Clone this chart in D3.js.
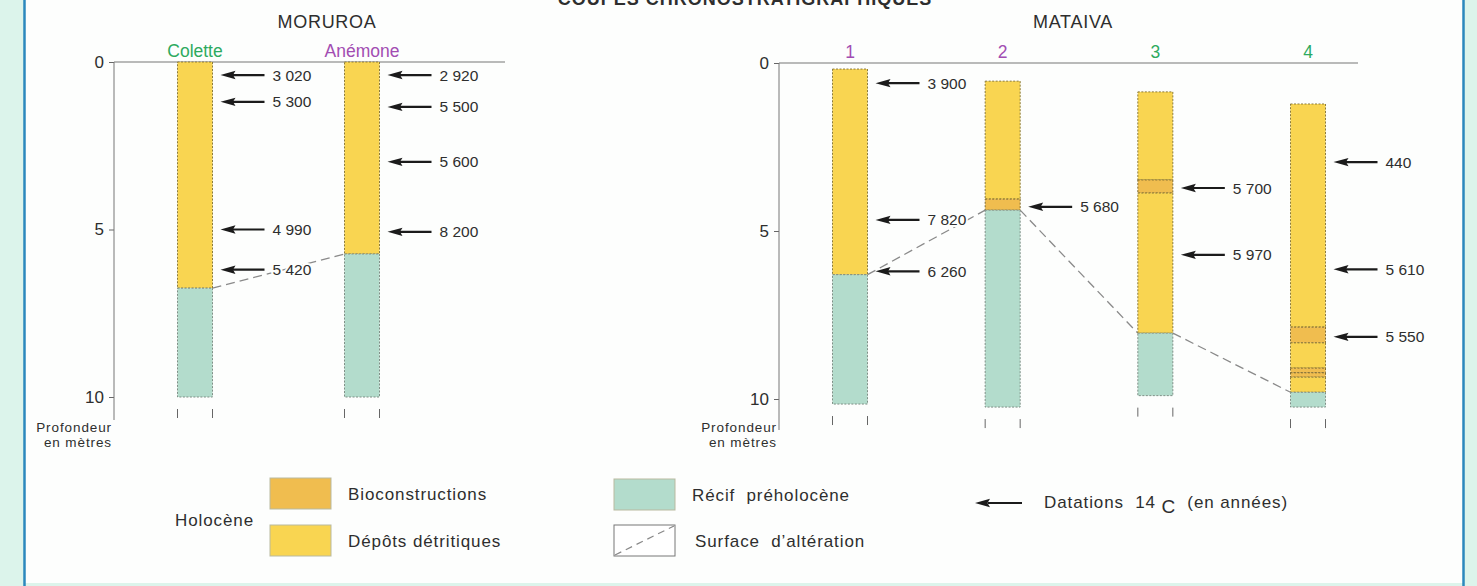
<!DOCTYPE html>
<html>
<head>
<meta charset="utf-8">
<script src="https://cdn.jsdelivr.net/npm/d3@7"></script>
<style>
  body { margin: 0; background: #dcf4eb; }
  svg { display: block; font-family: "Liberation Sans", Arial, Helvetica, sans-serif; }
</style>
</head>
<body>
<svg id="chart" width="1477" height="586"></svg>
<script>
// ---- Data -------------------------------------------------------------
// Depth ticks (metres)
const depthTicks = [0, 5, 10];

// Cores of each atoll
const moruroaCores = ["Colette", "Anémone"];
const mataivaCores = ["1", "2", "3", "4"];

// Layers: [core, facies, top depth (m), bottom depth (m)]
const moruroaLayers = [
  ["Colette", "detritique", 0, 6.75],
  ["Colette", "recif", 6.75, 10],
  ["Anémone", "detritique", 0, 5.73],
  ["Anémone", "recif", 5.73, 10]
];
const mataivaLayers = [
  ["1", "detritique", 0.18, 6.3],
  ["1", "recif", 6.3, 10.15],
  ["2", "detritique", 0.54, 4.05],
  ["2", "bioconstruction", 4.05, 4.38],
  ["2", "recif", 4.38, 10.24],
  ["3", "detritique", 0.86, 3.48],
  ["3", "bioconstruction", 3.48, 3.87],
  ["3", "detritique", 3.87, 8.04],
  ["3", "recif", 8.04, 9.9],
  ["4", "detritique", 1.22, 7.86],
  ["4", "bioconstruction", 7.86, 8.33],
  ["4", "detritique", 8.33, 9.08],
  ["4", "bioconstruction", 9.08, 9.22],
  ["4", "bioconstruction", 9.22, 9.35],
  ["4", "detritique", 9.35, 9.8],
  ["4", "recif", 9.8, 10.24]
];

// 14C datings: [core, depth (m), age (years)]
const moruroaDates = [
  ["Colette", 0.39, 3020],
  ["Colette", 1.19, 5300],
  ["Colette", 5.0, 4990],
  ["Colette", 6.2, 5420],
  ["Anémone", 0.39, 2920],
  ["Anémone", 1.34, 5500],
  ["Anémone", 2.98, 5600],
  ["Anémone", 5.07, 8200]
];
const mataivaDates = [
  ["1", 0.6, 3900],
  ["1", 4.67, 7820],
  ["1", 6.2, 6260],
  ["2", 4.28, 5680],
  ["3", 3.72, 5700],
  ["3", 5.71, 5970],
  ["4", 2.95, 440],
  ["4", 6.14, 5610],
  ["4", 8.15, 5550]
];

// ---- Styles -----------------------------------------------------------
const faciesFill = {
  bioconstruction: "#f0bd4f",
  detritique: "#f9d551",
  recif: "#b3dccc"
};
const faciesStroke = {
  bioconstruction: "#7d6a33",
  detritique: "#8b7b3c",
  recif: "#7f8f86"
};
const coreColor = {
  "Colette": "#2daa5f", "Anémone": "#a24db2",
  "1": "#a24db2", "2": "#a24db2", "3": "#2daa5f", "4": "#2daa5f"
};
const textColor = "#2e2e2e";
const inkColor = "#1b1b1b";
const colW = 35;

const fr = d3.formatLocale({ decimal: ",", thousands: " ", grouping: [3], currency: ["", ""] });
const fmtAge = fr.format(",d");

const svg = d3.select("#chart");
const W = 1477, H = 586;

// ---- Frame ------------------------------------------------------------
svg.append("rect").attr("width", W).attr("height", H).attr("fill", "#dcf4eb");
svg.append("rect").attr("x", 25).attr("y", 0).attr("width", 1438).attr("height", 583).attr("fill", "#fdfefd");
[24.5, 1463.5].forEach(xv => svg.append("line")
  .attr("x1", xv).attr("x2", xv).attr("y1", 0).attr("y2", H)
  .attr("stroke", "#2b88bd").attr("stroke-width", 2.5));

// Main heading (runs off the top edge)
svg.append("text")
  .attr("x", 745).attr("y", 5)
  .attr("text-anchor", "middle")
  .attr("font-size", 18).attr("letter-spacing", 1)
  .attr("font-weight", "bold")
  .attr("fill", textColor)
  .text("COUPES CHRONOSTRATIGRAPHIQUES");

// ---- Panels -----------------------------------------------------------
const panels = [
  { name: "MORUROA", titleX: 327, axisX: 114, yRange: [62, 397], lineEnd: 505, axisEnd: 420,
    xRange: [195, 362], cores: moruroaCores, layers: moruroaLayers, dates: moruroaDates },
  { name: "MATAIVA", titleX: 1073, axisX: 779, yRange: [63, 399], lineEnd: 1358, axisEnd: 430,
    xRange: [850, 1308], cores: mataivaCores, layers: mataivaLayers, dates: mataivaDates }
];

function arrowPath(xTip, yv) {
  return `M${xTip},${yv} L${xTip + 15},${yv - 4.2} L${xTip + 12.5},${yv} L${xTip + 15},${yv + 4.2} Z`;
}

panels.forEach(p => {
  const y = d3.scaleLinear().domain([0, 10]).range(p.yRange);
  const x = d3.scalePoint().domain(p.cores).range(p.xRange);
  const g = svg.append("g");

  g.append("text")
    .attr("x", p.titleX).attr("y", 28)
    .attr("text-anchor", "middle")
    .attr("font-size", 18).attr("letter-spacing", 0.7)
    .attr("fill", textColor)
    .text(p.name);

  // depth axis
  const ag = g.append("g")
    .attr("transform", `translate(${p.axisX},0)`)
    .call(d3.axisLeft(y).tickValues(depthTicks).tickSize(5).tickPadding(5).tickSizeOuter(0));
  ag.select(".domain").remove();
  ag.selectAll(".tick line").attr("stroke", "#666");
  ag.selectAll(".tick text")
    .attr("font-size", 17).attr("fill", textColor)
    .attr("font-family", "Liberation Sans, Arial, sans-serif");

  g.append("line")
    .attr("x1", p.axisX).attr("x2", p.axisX)
    .attr("y1", y(0)).attr("y2", p.axisEnd)
    .attr("stroke", "#777").attr("stroke-width", 1);
  g.append("line")
    .attr("x1", p.axisX).attr("x2", p.lineEnd)
    .attr("y1", y(0)).attr("y2", y(0))
    .attr("stroke", "#777").attr("stroke-width", 1.2);

  const lab = g.append("text")
    .attr("text-anchor", "end")
    .attr("font-size", 13.5).attr("letter-spacing", 0.9)
    .attr("fill", textColor);
  lab.append("tspan").attr("x", p.axisX - 2).attr("y", 432).text("Profondeur");
  lab.append("tspan").attr("x", p.axisX - 2).attr("y", 447).text("en mètres");

  // surface of alteration: top of the pre-Holocene reef, core to core
  const reefTop = p.cores.map(c => d3.min(p.layers.filter(l => l[0] === c && l[1] === "recif"), l => l[2]));
  for (let i = 0; i < p.cores.length - 1; i++) {
    g.append("line")
      .attr("x1", x(p.cores[i]) + colW / 2).attr("y1", y(reefTop[i]))
      .attr("x2", x(p.cores[i + 1]) - colW / 2).attr("y2", y(reefTop[i + 1]))
      .attr("stroke", "#8a8a8a").attr("stroke-width", 1.3)
      .attr("stroke-dasharray", "9,5");
  }

  // core columns
  g.selectAll("rect.layer").data(p.layers).join("rect")
    .attr("class", "layer")
    .attr("x", d => x(d[0]) - colW / 2)
    .attr("y", d => y(d[2]))
    .attr("width", colW)
    .attr("height", d => y(d[3]) - y(d[2]))
    .attr("fill", d => faciesFill[d[1]])
    .attr("stroke", d => faciesStroke[d[1]])
    .attr("stroke-width", 1)
    .attr("stroke-dasharray", "2,1.5");

  // continuation marks below each core, and core names
  p.cores.forEach(c => {
    const bottom = d3.max(p.layers.filter(l => l[0] === c), l => l[3]);
    [-colW / 2, colW / 2].forEach(off => g.append("line")
      .attr("x1", x(c) + off).attr("x2", x(c) + off)
      .attr("y1", y(bottom) + 12).attr("y2", y(bottom) + 21)
      .attr("stroke", "#666").attr("stroke-width", 1));
    const top = d3.min(p.layers.filter(l => l[0] === c), l => l[2]);
    g.append("text")
      .attr("x", x(c)).attr("y", Math.min(y(top) - 3, y(0) - 5))
      .attr("text-anchor", "middle")
      .attr("font-size", 17.5)
      .attr("fill", coreColor[c])
      .text(c);
  });

  // datings
  const dg = g.selectAll("g.date").data(p.dates).join("g").attr("class", "date");
  dg.append("line")
    .attr("x1", d => x(d[0]) + colW / 2 + 18).attr("x2", d => x(d[0]) + colW / 2 + 52)
    .attr("y1", d => y(d[1])).attr("y2", d => y(d[1]))
    .attr("stroke", inkColor).attr("stroke-width", 2.2);
  dg.append("path")
    .attr("d", d => arrowPath(x(d[0]) + colW / 2 + 8, y(d[1])))
    .attr("fill", inkColor);
  dg.append("text")
    .attr("x", d => x(d[0]) + colW / 2 + 60)
    .attr("y", d => y(d[1]))
    .attr("dy", "0.36em")
    .attr("font-size", 15.5)
    .attr("fill", textColor)
    .attr("stroke", "#fdfefd").attr("stroke-width", 4).attr("paint-order", "stroke")
    .text(d => fmtAge(d[2]));
});

// ---- Legend -----------------------------------------------------------
const lg = svg.append("g").attr("font-size", 17).attr("fill", textColor).attr("letter-spacing", 0.9);
const legendItems = [
  { facies: "bioconstruction", label: "Bioconstructions", x: 270, y: 478 },
  { facies: "detritique", label: "Dépôts détritiques", x: 270, y: 525 },
  { facies: "recif", label: "Récif  préholocène", x: 614, y: 479 }
];
legendItems.forEach(it => {
  lg.append("rect").attr("x", it.x).attr("y", it.y).attr("width", 61).attr("height", 31)
    .attr("fill", faciesFill[it.facies]).attr("stroke", "#b9b9a0").attr("stroke-width", 1);
  lg.append("text").attr("x", it.x + 78).attr("y", it.y + 16).attr("dy", "0.35em")
    .style("white-space", "pre").text(it.label);
});
lg.append("text").attr("x", 175).attr("y", 520).attr("dy", "0.35em").text("Holocène");

// surface of alteration key
lg.append("rect").attr("x", 614).attr("y", 525).attr("width", 61).attr("height", 31)
  .attr("fill", "#fff").attr("stroke", "#777").attr("stroke-width", 1);
lg.append("line").attr("x1", 615).attr("y1", 555).attr("x2", 674).attr("y2", 526)
  .attr("stroke", "#888").attr("stroke-width", 1.2).attr("stroke-dasharray", "7,5");
lg.append("text").attr("x", 695).attr("y", 541).attr("dy", "0.35em")
  .style("white-space", "pre").text("Surface  d’altération");

// dating key
lg.append("line").attr("x1", 988).attr("x2", 1022).attr("y1", 503).attr("y2", 503)
  .attr("stroke", inkColor).attr("stroke-width", 2.2);
lg.append("path").attr("d", arrowPath(975, 503)).attr("fill", inkColor);
const dt = lg.append("text").attr("x", 1044).attr("y", 502).attr("dy", "0.35em").style("white-space", "pre");
dt.append("tspan").text("Datations  14 ");
dt.append("tspan").attr("dy", 5).attr("font-size", 19).text("C");
dt.append("tspan").attr("dy", -5).text("  (en années)");
</script>
</body>
</html>
